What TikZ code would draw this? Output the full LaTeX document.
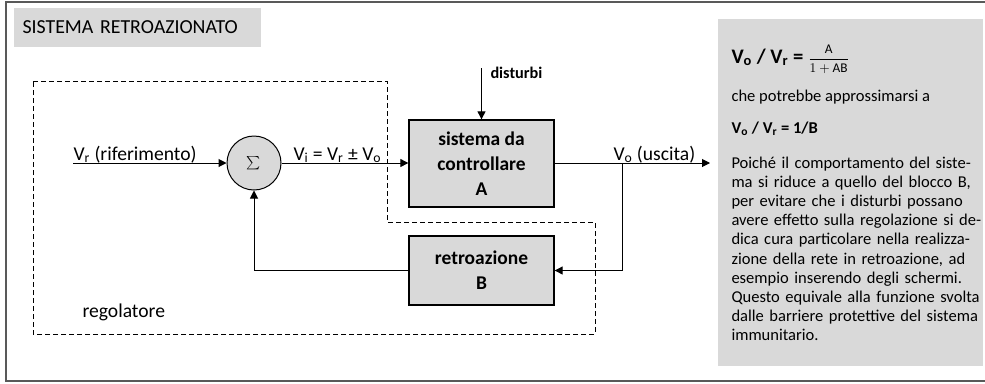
\documentclass[tikz,border=0pt]{standalone}
\usepackage{fontspec}
\setmainfont{Carlito}
\usetikzlibrary{arrows.meta, positioning, calc}

\definecolor{boxgray}{HTML}{D9D9D9}
\newcommand{\jline}[1]{\makebox[185.25pt][s]{#1}}

\begin{document}
\begin{tikzpicture}[x=0.75pt, y=-0.75pt, line width=0.75pt,
    >={Triangle[length=6pt,width=6pt]},
    block/.style={draw, fill=boxgray, line width=1pt, minimum width=108.75pt, align=center,
      font=\bfseries\fontsize{14.6}{18.75}\selectfont},
    lbl/.style={inner sep=0pt, font=\fontsize{14.7}{16}\selectfont},
    notetxt/.style={inner sep=0pt, font=\fontsize{12.4}{14.4}\selectfont},
    regbox/.style={dash pattern=on 3.5pt off 2.5pt}]

  \useasboundingbox (0,0) rectangle (985,383);
  \draw[black!65, line width=1.2pt] (986,2) -- (6,2) -- (6,381) -- (986,381);

  \node[anchor=west, fill=boxgray, minimum height=29.25pt, text width=171.75pt, inner xsep=6.75pt,
    inner ysep=0pt, align=left, font=\fontsize{14.9}{16}\selectfont] (title) at (13,27.5) {SISTEMA RETROAZIONATO};

  % regolatore
  \draw[regbox] (33,81) -- (387,81) -- (387,222) -- (595,222) -- (595,334) -- (33,334) -- cycle;
  \node[lbl, anchor=base west] (reglab) at (82,317) {regolatore};

  \node[draw, circle, fill=boxgray, minimum size=40.5pt, inner sep=0pt] (sum) at (254,163)
    {\fontsize{14}{14}\selectfont$\sum$};
  \node[block, minimum height=65.25pt] (sysA) at (481.5,163.5) {sistema da\\controllare\\A};
  \node[block, minimum height=51.75pt] (retroB) at (481.5,270.5) {retroazione\\B};

  \coordinate (vr) at (73,163);
  \coordinate (dist) at (481.5,68);
  \coordinate (vo) at (710,163);
  \coordinate (tap) at (622,163);

  \draw[->] (vr) -- (sum.west);
  \draw[->] (sum.east) -- (sum.east -| sysA.west);
  \draw[->] (dist) -- (sysA.north);
  \draw[->] (sum.east -| sysA.east) -- (vo);
  \draw[->] (tap) |- (retroB.east);
  \draw[->] (retroB.west) -| (sum.south);

  \node[lbl, anchor=base west] (vrlab) at (73,160) {V\textsubscript{r} (riferimento)};
  \node[lbl, anchor=base west] (vilab) at (293,160) {V\textsubscript{i} = V\textsubscript{r} ± V\textsubscript{o}};
  \node[lbl, anchor=base west] (volab) at (613,160) {V\textsubscript{o} (uscita)};
  \node[lbl, anchor=base west, font=\bfseries\fontsize{12.2}{13}\selectfont] (distlab) at (490,78) {disturbi};

  % nota a destra
  \node[anchor=north west, fill=boxgray, minimum width=198.75pt, minimum height=260.25pt,
    inner sep=0pt] (panel) at (717,18) {};
  \node[notetxt, anchor=base west, font=\bfseries\fontsize{15.5}{18}\selectfont] (ratio) at (731,63)
    {V\textsubscript{o} / V\textsubscript{r} = {\fontsize{10}{12}\selectfont$\displaystyle\frac{\mathrm{A}}{1+\mathrm{AB}}$}};
  \node[notetxt, anchor=base west] (approx) at (731,101) {che potrebbe approssimarsi a};
  \node[notetxt, anchor=base west, font=\bfseries\fontsize{12.4}{14.4}\selectfont] (ratio2) at (731,133)
    {V\textsubscript{o} / V\textsubscript{r} = 1/B};
  \node[notetxt, anchor=base west, text width=185.25pt, align=left] (note) at (731,168)
    {\jline{Poiché il comportamento del siste-}\\
     \jline{ma si riduce a quello del blocco B,}\\
     \jline{per evitare che i disturbi possano}\\
     \jline{avere effetto sulla regolazione si de-}\\
     \jline{dica cura particolare nella realizza-}\\
     \jline{zione della rete in retroazione, ad}\\
     \mbox{esempio inserendo degli schermi.}\\
     \jline{Questo equivale alla funzione svolta}\\
     \mbox{dalle barriere protettive del sistema}\\
     immunitario.};
\end{tikzpicture}
\end{document}
